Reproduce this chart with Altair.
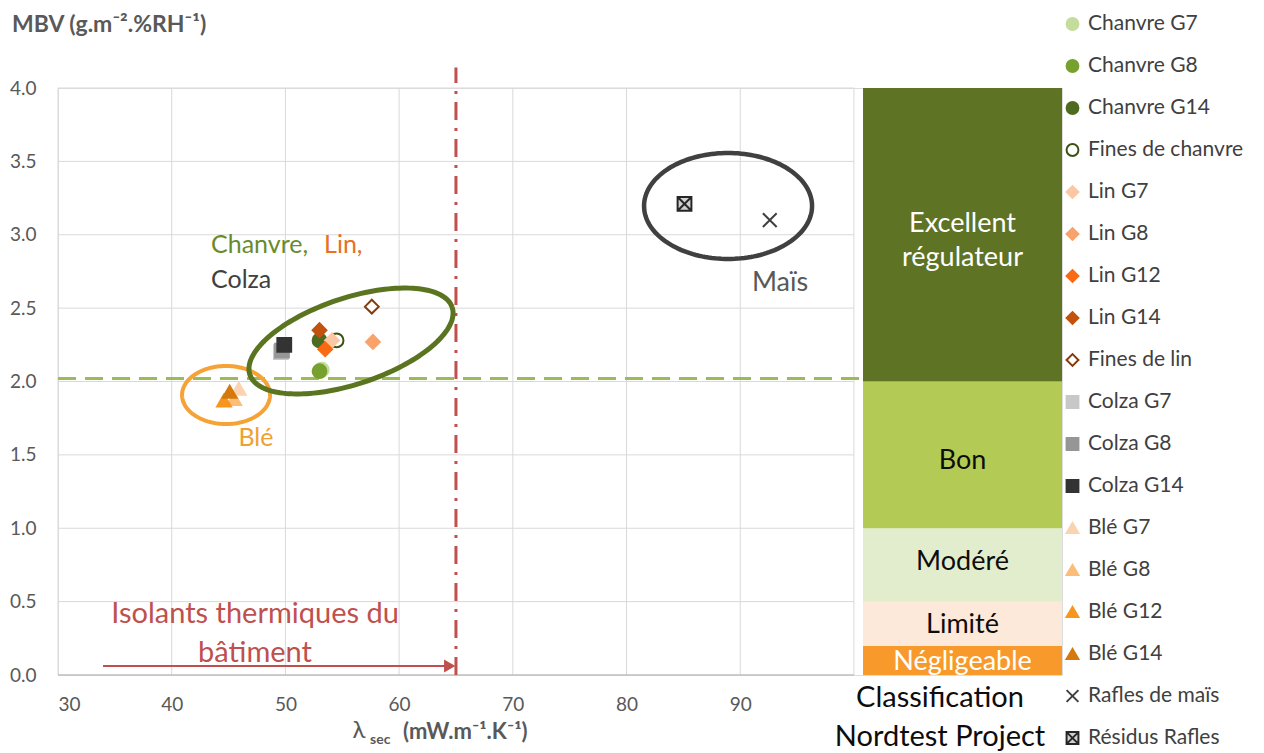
import altair as alt
import numpy as np
import pandas as pd

FONT = "Lato"

# ---------------- data ----------------
series = ["Chanvre G7", "Chanvre G8", "Chanvre G14", "Fines de chanvre",
          "Lin G7", "Lin G8", "Lin G12", "Lin G14", "Fines de lin",
          "Colza G7", "Colza G8", "Colza G14",
          "Blé G7", "Blé G8", "Blé G12", "Blé G14",
          "Rafles de maïs", "Résidus Rafles"]
lambda_sec = [53.2, 53.0, 53.0, 54.5,
              54.1, 57.7, 53.5, 53.0, 57.6,
              49.6, 49.7, 49.9,
              45.9, 45.5, 44.6, 45.1,
              92.6, 85.1]
mbv = [2.08, 2.07, 2.28, 2.28,
       2.28, 2.27, 2.22, 2.35, 2.51,
       2.20, 2.21, 2.25,
       1.95, 1.88, 1.87, 1.93,
       3.10, 3.21]

fill_colors = ["#c4dc9c", "#77a12e", "#4e6b20", "#ffffff",
               "#fbc8a3", "#f9a36c", "#fa6a12", "#c2520d", "#ffffff",
               "#c8c8c8", "#969696", "#333333",
               "#fcd3b0", "#fbbd78", "#f7961f", "#d5780e",
               "#404040", "#d0d0d0"]
stroke_colors = ["#c4dc9c", "#77a12e", "#4e6b20", "#3c5214",
                 "#fbc8a3", "#f9a36c", "#fa6a12", "#c2520d", "#843c0c",
                 "#c8c8c8", "#969696", "#333333",
                 "#fcd3b0", "#fbbd78", "#f7961f", "#d5780e",
                 "#404040", "#262626"]
XPATH = "M-1,-1L1,1M1,-1L-1,1"
BOXX = "M-1,-1L1,-1L1,1L-1,1ZM-1,-1L1,1M1,-1L-1,1"
shapes = (["circle"] * 4 + ["diamond"] * 5 + ["square"] * 3 +
          ["triangle-up"] * 4 + [XPATH, BOXX])

classes = ["Négligeable", "Limité", "Modéré", "Bon", "Excellent\nrégulateur"]
class_low = [0.0, 0.2, 0.5, 1.0, 2.0]
class_high = [0.2, 0.5, 1.0, 2.0, 4.0]
class_colors = ["#f79a2b", "#fde9d9", "#e2edcd", "#b3cb54", "#5f7324"]

x_ticks = [30, 40, 50, 60, 70, 80, 90]
x_grid = [30, 40, 50, 60, 70, 80, 90, 100]
y_grid = [0.5, 1.0, 1.5, 2.0, 2.5, 3.0, 3.5, 4.0]
y_ticks = [0.0, 0.5, 1.0, 1.5, 2.0, 2.5, 3.0, 3.5, 4.0]

mbv_threshold = 2.02
lambda_limit = 65

# ---------------- geometry ----------------
W, H = 1004, 587
XDOM = [30, 118.3]
YDOM = [0, 4]
PXX = W / (XDOM[1] - XDOM[0])
PXY = H / (YDOM[1] - YDOM[0])

xs = alt.Scale(domain=XDOM, nice=False, zero=False)
ys = alt.Scale(domain=YDOM, nice=False, zero=False)

x_axis = alt.Axis(values=x_ticks, grid=False, ticks=False, domain=False,
                  labelFontSize=19, labelColor="#595959", labelPadding=20,
                  labelFont=FONT, title=None)
y_axis = alt.Axis(values=y_ticks, format=".1f", grid=False, ticks=False,
                  domain=False, labelFontSize=19, labelColor="#595959",
                  labelPadding=22, labelFont=FONT, title=None)


def X(field):
    return alt.X(field, scale=xs, axis=x_axis)


def Y(field):
    return alt.Y(field, scale=ys, axis=y_axis)


# ---------------- grid ----------------
vgrid = alt.Chart(pd.DataFrame({"x": x_grid, "y0": 0.0, "y1": 4.0})).mark_rule(
    color="#d9d9d9", strokeWidth=1).encode(x=X("x:Q"), y=Y("y0:Q"), y2="y1:Q")
hgrid = alt.Chart(pd.DataFrame({"y": y_grid, "x0": 30.0, "x1": 100.0})).mark_rule(
    color="#d9d9d9", strokeWidth=1).encode(y=Y("y:Q"), x=X("x0:Q"), x2="x1:Q")
base = alt.Chart(pd.DataFrame({"y": [0.0], "x0": [30.0], "x1": [100.0]})).mark_rule(
    color="#bfbfbf", strokeWidth=1.3).encode(y=Y("y:Q"), x=X("x0:Q"), x2="x1:Q")

# ---------------- classification bars ----------------
cls_df = pd.DataFrame({"cls": classes, "lo": class_low, "hi": class_high,
                       "x0": 100.8, "x1": 118.3})
cls_bars = alt.Chart(cls_df).mark_rect().encode(
    x=X("x0:Q"), x2="x1:Q", y=Y("lo:Q"), y2="hi:Q",
    color=alt.Color("cls:N", scale=alt.Scale(domain=classes, range=class_colors),
                    legend=None))

# label anchors (annotation placement, in axis units)
cls_label_df = pd.DataFrame({"cls": classes, "xm": 109.55,
                             "ym": [0.09, 0.34, 0.77, 1.46, 3.07]})
cls_text = alt.Chart(cls_label_df).mark_text(
    fontSize=27, font=FONT, lineBreak="\n", lineHeight=34, baseline="middle").encode(
    x=X("xm:Q"), y=Y("ym:Q"), text="cls:N",
    color=alt.condition("datum.cls == 'Négligeable' || indexof(datum.cls, 'Excellent') == 0",
                        alt.value("#ffffff"), alt.value("#0d0d0d")))

cls_caption = alt.Chart(pd.DataFrame({"t": ["Classification", "Nordtest Project"],
                                      "x": [107.57, 107.57], "y": [-0.157, -0.42]})).mark_text(
    fontSize=29, font=FONT, color="#0d0d0d", baseline="middle").encode(
    x=X("x:Q"), y=Y("y:Q"), text="t:N")

# ---------------- reference lines ----------------
hline = alt.Chart(pd.DataFrame({"y": [mbv_threshold], "x0": [30.0], "x1": [100.7]})).mark_rule(
    color="#9bbb59", strokeWidth=3, strokeDash=[18, 9]).encode(
    y=Y("y:Q"), x=X("x0:Q"), x2="x1:Q")
vline = alt.Chart(pd.DataFrame({"x": [lambda_limit], "y0": [0.0], "y1": [4.14]})).mark_rule(
    color="#c0504d", strokeWidth=3, strokeDash=[18, 8, 3, 8]).encode(
    x=X("x:Q"), y=Y("y0:Q"), y2="y1:Q")

arrow_line = alt.Chart(pd.DataFrame({"x0": [33.96], "x1": [64.5], "y": [0.061]})).mark_rule(
    color="#c0504d", strokeWidth=2).encode(x=X("x0:Q"), x2="x1:Q", y=Y("y:Q"))
arrow_head = alt.Chart(pd.DataFrame({"x": [64.45], "y": [0.061]})).mark_point(
    shape="triangle-right", size=170, filled=True, color="#c0504d", opacity=1).encode(
    x=X("x:Q"), y=Y("y:Q"))


# ---------------- ellipses ----------------
def ellipse(cx, cy, a_px, b_px, theta_deg, color, width):
    t = np.linspace(0, 2 * np.pi, 161)
    th = np.radians(theta_deg)
    dx = a_px * np.cos(t) * np.cos(th) - b_px * np.sin(t) * np.sin(th)
    dy = a_px * np.cos(t) * np.sin(th) + b_px * np.sin(t) * np.cos(th)
    df = pd.DataFrame({"x": cx + dx / PXX, "y": cy + dy / PXY, "i": np.arange(len(t))})
    return alt.Chart(df).mark_line(color=color, strokeWidth=width).encode(
        x=X("x:Q"), y=Y("y:Q"), order="i:Q")


ell_green = ellipse(55.77, 2.276, 106.6, 43.1, 18.4, "#5a7420", 5)
ell_orange = ellipse(44.78, 1.908, 44, 29, 0, "#f5a236", 4)
ell_grey = ellipse(88.93, 3.196, 84, 53, 0, "#404040", 4.5)

# ---------------- points ----------------
pts = pd.DataFrame({"series": series, "lambda": lambda_sec, "mbv": mbv,
                    "ord": list(range(len(series)))})
legend = alt.Legend(orient="none", legendX=1004, legendY=-74.5, title=None,
                    labelFontSize=21, labelColor="#404040", labelFont=FONT,
                    symbolSize=140, symbolStrokeWidth=2, rowPadding=20,
                    labelOffset=5, labelLimit=300)
points = alt.Chart(pts).mark_point(size=190, strokeWidth=2, opacity=1).encode(
    x=X("lambda:Q"), y=Y("mbv:Q"),
    fill=alt.Fill("series:N", scale=alt.Scale(domain=series, range=fill_colors), legend=legend),
    stroke=alt.Stroke("series:N", scale=alt.Scale(domain=series, range=stroke_colors), legend=legend),
    shape=alt.Shape("series:N", scale=alt.Scale(domain=series, range=shapes), legend=legend),
    order="ord:Q")


# ---------------- annotations ----------------
def label(text, x, y, color, size, align="left", weight="normal"):
    return alt.Chart(pd.DataFrame({"t": [text], "x": [x], "y": [y]})).mark_text(
        color=color, fontSize=size, font=FONT, align=align, baseline="middle",
        fontWeight=weight).encode(x=X("x:Q"), y=Y("y:Q"), text="t:N")


ann = [
    label("Chanvre,", 43.46, 2.93, "#6b8a2c", 25),
    label("Lin,", 53.4, 2.93, "#e8711c", 25),
    label("Colza", 43.46, 2.69, "#404040", 25),
    label("Blé", 47.41, 1.615, "#f0a030", 25, align="center"),
    label("Maïs", 93.5, 2.671, "#595959", 27, align="center"),
    label("Isolants thermiques du", 47.33, 0.416, "#c0504d", 29, align="center"),
    label("bâtiment", 47.33, 0.15, "#c0504d", 29, align="center"),
    label("MBV (g.m⁻².%RH⁻¹)", 25.95, 4.429, "#595959", 23, weight="bold"),
    label("λ", 55.9, -0.382, "#595959", 24),
    label("sec", 57.44, -0.443, "#595959", 14, weight="bold"),
    label("(mW.m⁻¹.K⁻¹)", 60.34, -0.39, "#595959", 22, weight="bold"),
]

chart = alt.layer(
    vgrid, hgrid, base, cls_bars, cls_text, cls_caption,
    hline, vline, arrow_line, arrow_head,
    ell_orange, ell_green, ell_grey, points, *ann
).properties(
    width=W, height=H,
    autosize=alt.AutoSizeParams(type="none"),
    padding={"left": 50, "top": 80, "right": 190, "bottom": 78},
).configure_view(stroke=None).configure(font=FONT)

chart.save("out.html", embed_options={"renderer": "svg", "actions": False})
